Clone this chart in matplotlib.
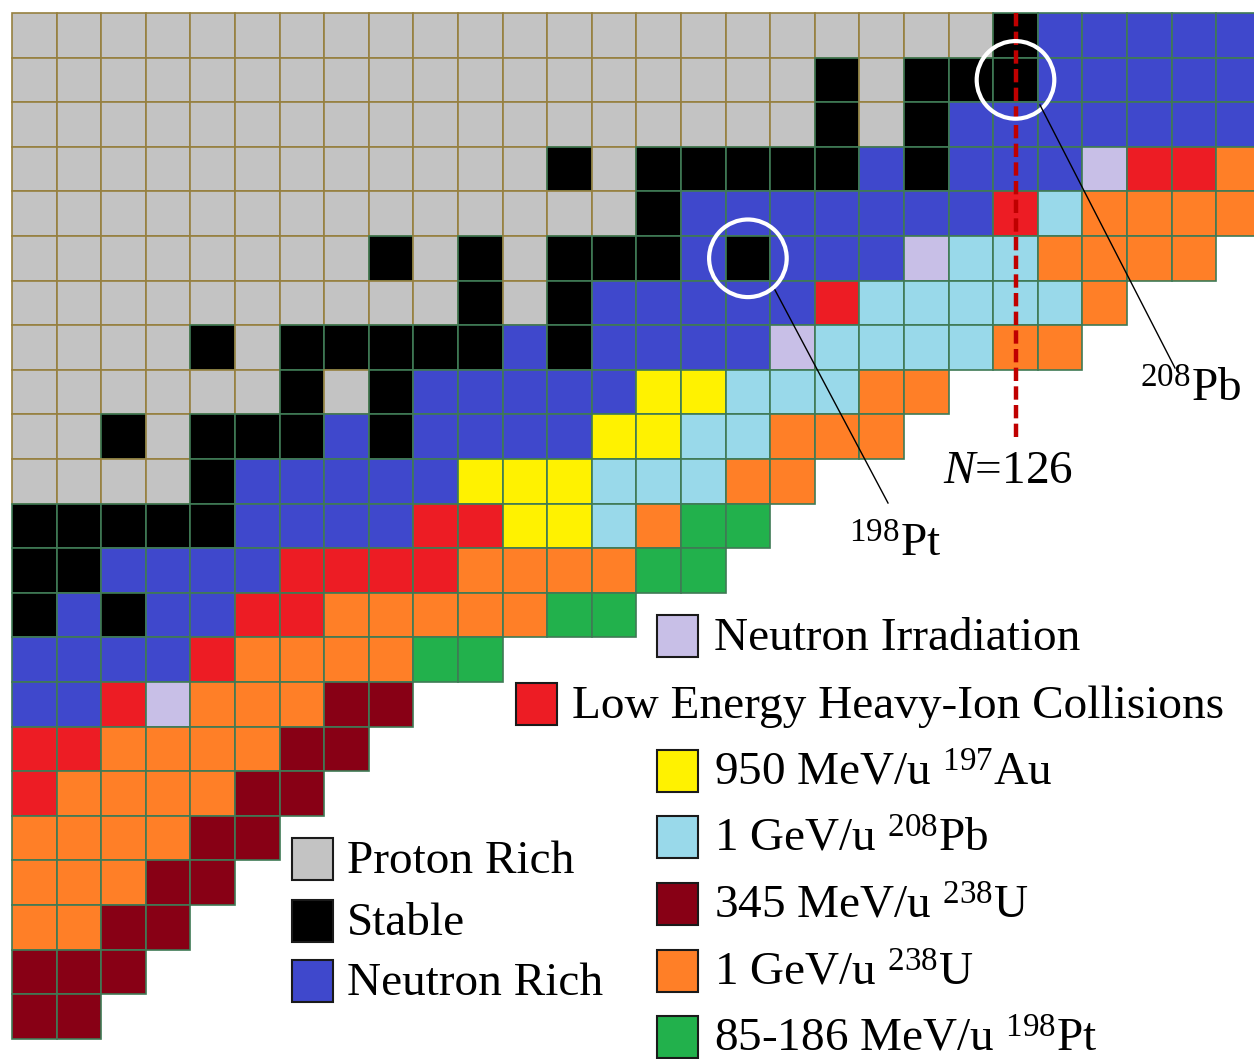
import matplotlib.pyplot as plt
from matplotlib.patches import Rectangle, Circle

plt.rcParams['font.family'] = ['Liberation Serif', 'DejaVu Serif']
plt.rcParams['mathtext.fontset'] = 'custom'
plt.rcParams['mathtext.rm'] = 'Liberation Serif'
plt.rcParams['mathtext.it'] = 'Liberation Serif:italic'

# nuclide chart, one string per row (top to bottom), one letter per cell
rows = [
    "G" * 22 + "K" + "B" * 5,
    "G" * 18 + "K" + "G" + "KKK" + "B" * 5,
    "G" * 18 + "K" + "G" + "K" + "B" * 7,
    "G" * 12 + "K" + "G" + "K" * 5 + "B" + "K" + "BBB" + "L" + "RR" + "O",
    "G" * 14 + "K" + "B" * 7 + "R" + "C" + "O" * 4,
    "G" * 8 + "K" + "G" + "K" + "G" + "KKK" + "B" + "K" + "BBB" + "L" + "CC" + "O" * 4,
    "G" * 10 + "K" + "G" + "K" + "B" * 5 + "R" + "C" * 5 + "O",
    "G" * 4 + "K" + "G" + "K" * 5 + "B" + "K" + "B" * 4 + "L" + "C" * 4 + "OO",
    "G" * 6 + "K" + "G" + "K" + "B" * 5 + "YY" + "CCC" + "OO",
    "GG" + "K" + "G" + "KKK" + "B" + "K" + "B" * 4 + "YY" + "CC" + "OOO",
    "G" * 4 + "K" + "B" * 5 + "YYY" + "CCC" + "OO",
    "K" * 5 + "B" * 4 + "RR" + "YY" + "C" + "O" + "NN",
    "KK" + "B" * 4 + "R" * 4 + "O" * 4 + "NN",
    "K" + "B" + "K" + "BB" + "RR" + "O" * 5 + "NN",
    "B" * 4 + "R" + "O" * 4 + "NN",
    "BB" + "R" + "L" + "OOO" + "MM",
    "RR" + "O" * 4 + "MM",
    "R" + "O" * 4 + "MM",
    "O" * 4 + "MM",
    "OOO" + "MM",
    "OO" + "MM",
    "MMM",
    "MM",
]

colors = {
    "G": "#c3c3c3",  # proton rich
    "K": "#000000",  # stable
    "B": "#3f48cc",  # neutron rich
    "L": "#c8bfe7",  # neutron irradiation
    "R": "#ed1c24",  # low energy heavy-ion
    "Y": "#fff200",  # 950 MeV/u Au
    "C": "#99d9ea",  # 1 GeV/u Pb
    "M": "#880015",  # 345 MeV/u U
    "O": "#ff7f27",  # 1 GeV/u U
    "N": "#22b14c",  # 85-186 MeV/u Pt
}

legend_left = [("G", "Proton Rich"), ("K", "Stable"), ("B", "Neutron Rich")]
legend_right = [
    ("L", "Neutron Irradiation"),
    ("R", "Low Energy Heavy-Ion Collisions"),
    ("Y", r"950 MeV/u $^{197}$Au"),
    ("C", r"1 GeV/u $^{208}$Pb"),
    ("M", r"345 MeV/u $^{238}$U"),
    ("O", r"1 GeV/u $^{238}$U"),
    ("N", r"85-186 MeV/u $^{198}$Pt"),
]

# highlighted nuclides: (column, row, label)
marked = [(16, 5, r"$^{198}$Pt"), (22, 1, r"$^{208}$Pb")]
magic_col = 22

W, H = 1254, 1059
CELL = 44.6
X0, Y0 = 12, 13
FS = 34


def px(x, y):
    # pixel position -> cell coordinates
    return (x - X0) / CELL, (y - Y0) / CELL


fig = plt.figure(figsize=(W / 100, H / 100), dpi=100)
ax = fig.add_axes([0, 0, 1, 1])
ax.set_xlim(-X0 / CELL, (W - X0) / CELL)
ax.set_ylim((H - Y0) / CELL, -Y0 / CELL)
ax.axis("off")

for r, row in enumerate(rows):
    for c, code in enumerate(row):
        edge = "#96803f" if code == "G" else "#3f7a55"
        ax.add_patch(Rectangle((c, r), 1, 1, facecolor=colors[code],
                               edgecolor=edge, linewidth=1.2, zorder=1))

# N = 126 shell closure
ax.plot([magic_col + 0.5, magic_col + 0.5], [0, 9.55], color="#c00000",
        linewidth=3.2, dashes=(3, 1.2), zorder=3)
ax.text(*px(1008, 472), r"$N$=126", fontsize=FS, ha="center", va="center")

# circled nuclides with leader lines
label_pos = [((775, 290), (888, 503), (895, 545)),
             ((1040, 105), (1175, 368), (1191, 390))]
for (c, r, lab), (p0, p1, pt) in zip(marked, label_pos):
    ax.add_patch(Circle((c + 0.5, r + 0.5), 0.87, fill=False,
                        edgecolor="white", linewidth=3, zorder=4))
    x0, y0 = px(*p0)
    x1, y1 = px(*p1)
    ax.plot([x0, x1], [y0, y1], color="black", linewidth=1, zorder=4)
    ax.text(*px(*pt), lab, fontsize=FS, ha="center", va="center")


def legend_entry(code, text, box_x, text_x, yc):
    bx, by = px(box_x, yc - 21)
    ax.add_patch(Rectangle((bx, by), 41 / CELL, 42 / CELL,
                           facecolor=colors[code], edgecolor="#1a1a1a",
                           linewidth=1.5, zorder=5))
    ax.text(*px(text_x, yc + 3), text, fontsize=FS, ha="left", va="center")


for (code, text), yc in zip(legend_left, [859, 921, 981]):
    legend_entry(code, text, 292, 347, yc)

right_y = [636, 704, 771, 837, 904, 971, 1037]
for (code, text), yc in zip(legend_right, right_y):
    if code == "R":
        legend_entry(code, text, 516, 572, yc)
    else:
        legend_entry(code, text, 657, 714, yc)

fig.savefig("out.png", dpi=100)
